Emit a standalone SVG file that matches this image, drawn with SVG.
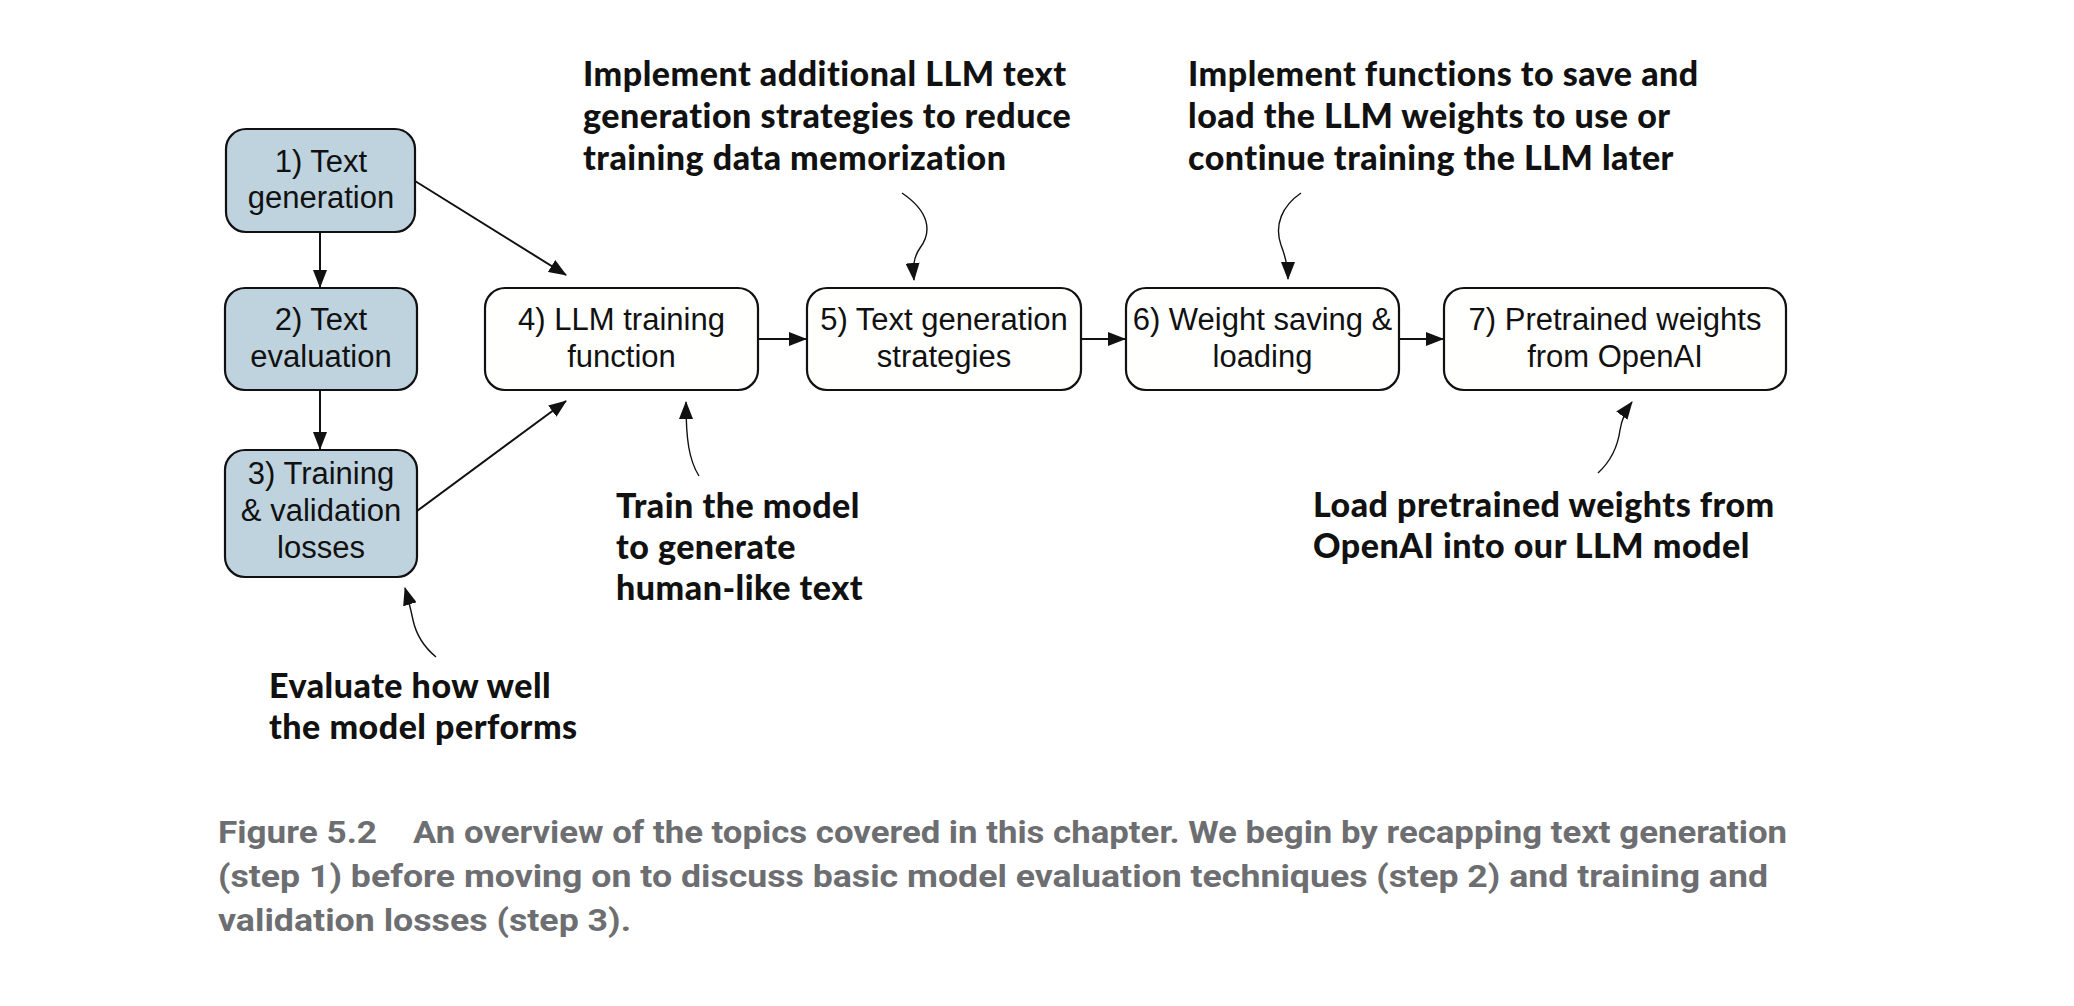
<svg xmlns="http://www.w3.org/2000/svg" width="2074" height="1006" viewBox="0 0 2074 1006">
<style>
.box{stroke:#111;stroke-width:2.2}
.blue{fill:#bed3de}
.white{fill:#fffffe}
.nt{font-family:"Liberation Sans",Arial,sans-serif;font-size:31px;fill:#111;text-anchor:middle}
.ann{font-family:Lato,"Open Sans",sans-serif;font-weight:900;font-size:34px;letter-spacing:0.5px;fill:#111}
.cap{font-family:"Liberation Sans Narrow","Roboto","Liberation Sans",sans-serif;font-weight:bold;font-size:31px;fill:#6d6e71}
.conn{fill:none;stroke:#111;stroke-width:2}
.thin{fill:none;stroke:#111;stroke-width:1.4}
</style>
<defs>
<marker id="ah" markerUnits="userSpaceOnUse" markerWidth="18" markerHeight="14" refX="17" refY="7" orient="auto">
<path d="M0,0 L18,7 L0,14 z" fill="#111"/>
</marker>
<marker id="ah2" markerUnits="userSpaceOnUse" markerWidth="18" markerHeight="14" refX="17" refY="7" orient="auto">
<path d="M0,0 L18,7 L0,14 z" fill="#111"/>
</marker>
</defs>
<rect width="2074" height="1006" fill="#fff"/>

<g id="n1">
<rect class="box blue" x="226" y="129" width="189" height="103" rx="20"/>
<text class="nt" x="321" y="172">1) Text</text>
<text class="nt" x="321" y="208">generation</text>
</g>
<g id="n2">
<rect class="box blue" x="225" y="288" width="192" height="102" rx="20"/>
<text class="nt" x="321" y="330">2) Text</text>
<text class="nt" x="321" y="367">evaluation</text>
</g>
<g id="n3">
<rect class="box blue" x="225" y="450" width="192" height="127" rx="20"/>
<text class="nt" x="321" y="484">3) Training</text>
<text class="nt" x="321" y="521">&amp; validation</text>
<text class="nt" x="321" y="558">losses</text>
</g>
<g id="n4">
<rect class="box white" x="485" y="288" width="273" height="102" rx="20"/>
<text class="nt" x="621.5" y="330">4) LLM training</text>
<text class="nt" x="621.5" y="367">function</text>
</g>
<g id="n5">
<rect class="box white" x="807" y="288" width="274" height="102" rx="20"/>
<text class="nt" x="944" y="330">5) Text generation</text>
<text class="nt" x="944" y="367">strategies</text>
</g>
<g id="n6">
<rect class="box white" x="1126" y="288" width="273" height="102" rx="20"/>
<text class="nt" x="1262.5" y="330">6) Weight saving &amp;</text>
<text class="nt" x="1262.5" y="367">loading</text>
</g>
<g id="n7">
<rect class="box white" x="1444" y="288" width="342" height="102" rx="20"/>
<text class="nt" x="1615" y="330">7) Pretrained weights</text>
<text class="nt" x="1615" y="367">from OpenAI</text>
</g>

<g id="connectors">
<line class="conn" x1="320" y1="232" x2="320" y2="287" marker-end="url(#ah)"/>
<line class="conn" x1="320" y1="390" x2="320" y2="449" marker-end="url(#ah)"/>
<line class="conn" x1="415" y1="181" x2="566" y2="275" marker-end="url(#ah)"/>
<line class="conn" x1="417" y1="511" x2="566" y2="401" marker-end="url(#ah)"/>
<line class="conn" x1="758" y1="339" x2="806" y2="339" marker-end="url(#ah)"/>
<line class="conn" x1="1081" y1="339" x2="1125" y2="339" marker-end="url(#ah)"/>
<line class="conn" x1="1399" y1="339" x2="1443" y2="339" marker-end="url(#ah)"/>
<path class="thin" d="M902,193 C930,212 932,232 920,248 C913,258 913,268 914,280" marker-end="url(#ah2)"/>
<path class="thin" d="M1301,193 C1282,206 1274,225 1281,245 C1286,258 1288,268 1288,279" marker-end="url(#ah2)"/>
<path class="thin" d="M699,476 C689,460 686,440 686,402" marker-end="url(#ah2)"/>
<path class="thin" d="M1598,473 C1612,460 1618,445 1620,430 C1622,418 1626,410 1632,402" marker-end="url(#ah2)"/>
<path class="thin" d="M436,657 C424,647 416,634 413,620 C410,606 408,598 405,588" marker-end="url(#ah2)"/>
</g>

<g id="annotations">
<text class="ann" x="583" y="86">Implement additional LLM text</text>
<text class="ann" x="583" y="128">generation strategies to reduce</text>
<text class="ann" x="583" y="170">training data memorization</text>
<text class="ann" x="1188" y="86">Implement functions to save and</text>
<text class="ann" x="1188" y="128">load the LLM weights to use or</text>
<text class="ann" x="1188" y="170">continue training the LLM later</text>
<text class="ann" x="616" y="518">Train the model</text>
<text class="ann" x="616" y="559">to generate</text>
<text class="ann" x="616" y="600">human-like text</text>
<text class="ann" x="1313" y="517">Load pretrained weights from</text>
<text class="ann" x="1313" y="558">OpenAI into our LLM model</text>
<text class="ann" x="269" y="698">Evaluate how well</text>
<text class="ann" x="269" y="739">the model performs</text>
</g>

<g id="caption">
<text class="cap" x="218" y="843" textLength="159" lengthAdjust="spacingAndGlyphs">Figure 5.2</text>
<text class="cap" x="413" y="843" textLength="1374" lengthAdjust="spacingAndGlyphs">An overview of the topics covered in this chapter. We begin by recapping text generation</text>
<text class="cap" x="218" y="887" textLength="1550" lengthAdjust="spacingAndGlyphs">(step 1) before moving on to discuss basic model evaluation techniques (step 2) and training and</text>
<text class="cap" x="218" y="931" textLength="413" lengthAdjust="spacingAndGlyphs">validation losses (step 3).</text>
</g>
</svg>
